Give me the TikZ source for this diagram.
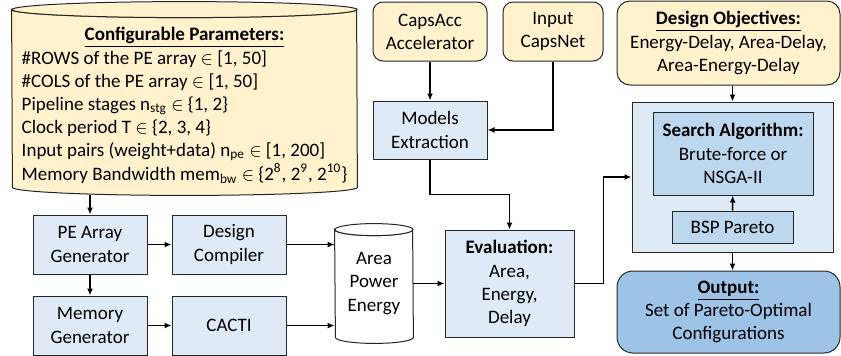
\documentclass[tikz,border=0pt]{standalone}
\usepackage{fontspec}
\setmainfont{Carlito}
\usetikzlibrary{positioning, arrows.meta, backgrounds}

\definecolor{paramyellow}{HTML}{FFF2CC}
\definecolor{blockblue}{HTML}{DEEBF7}
\definecolor{searchblue}{HTML}{BDD7EE}
\definecolor{outblue}{HTML}{9DC3E6}

\begin{document}
\begin{tikzpicture}[x=0.5pt, y=-0.5pt,
  every node/.style={font=\fontsize{9.5pt}{11.6pt}\selectfont, align=center, inner sep=0pt},
  block/.style={rectangle, draw=black!85, line width=0.5pt, fill=blockblue, minimum width=57pt, minimum height=29.5pt},
  inbox/.style={block, fill=paramyellow, rounded corners=5pt},
  conn/.style={-{Latex[length=3.5pt,width=3pt]}, line width=0.7pt},
  cyl/.style={draw=black!85, line width=0.5pt, fill=paramyellow}]
\useasboundingbox (0,0) rectangle (841,355);

% configuration space (cylinder)
\node (params) [minimum width=172.5pt, minimum height=96.5pt] at (184.5,98.5) {};
\node (paramlist) at (184.5,106) {\begin{tabular}{@{}l@{}}
  \multicolumn{1}{c}{\underline{\textbf{Configurable Parameters:}}}\\
  \#ROWS of the PE array $\in$ [1, 50]\\
  \#COLS of the PE array $\in$ [1, 50]\\
  Pipeline stages n\textsubscript{stg} $\in$ \{1, 2\}\\
  Clock period T $\in$ \{2, 3, 4\}\\
  Input pairs (weight+data) n\textsubscript{pe} $\in$ [1, 200]\\
  Memory Bandwidth mem\textsubscript{bw} $\in$ \{2\textsuperscript{8}, 2\textsuperscript{9}, 2\textsuperscript{10}\}
\end{tabular}};

% hardware generation
\node (pegen) [block] at (90,244.5) {PE Array\\Generator};
\node (memgen) [block, below=10.5pt of pegen] {Memory\\Generator};
\node (dc) [block, right=12pt of pegen] {Design\\Compiler};
\node (cacti) [block, right=12pt of memgen] {CACTI};
\node (store) [minimum width=39pt, minimum height=59.5pt] at (374,283.5) {Area\\Power\\Energy};

% inputs
\node (capsacc) [inbox] at (430,31.5) {CapsAcc\\Accelerator};
\node (capsnet) [inbox, minimum width=50pt, right=7.5pt of capsacc] {Input\\CapsNet};
\node (models) [block, minimum height=29pt, below=19.5pt of capsacc] {Models\\Extraction};
\node (eval) [block, minimum width=64.5pt, minimum height=53.5pt] at (509.5,283.5) {\textbf{Evaluation:}\\Area,\\Energy,\\Delay};

% exploration
\node (objectives) [inbox, rounded corners=6.5pt, minimum width=111.5pt, minimum height=42pt] at (728.5,43) {\underline{\textbf{Design Objectives:}}\\Energy-Delay, Area-Delay,\\Area-Energy-Delay};
\node (explore) [block, minimum width=100.5pt, minimum height=75pt] at (732.5,177) {};
\node (search) [block, fill=searchblue, minimum width=80pt, minimum height=41.5pt] at (733,153.5) {\textbf{Search Algorithm:}\\Brute-force or\\NSGA-II};
\node (bsp) [block, fill=searchblue, minimum width=60.5pt, minimum height=16pt] at (732.5,227) {BSP Pareto};
\node (output) [block, fill=outblue, rounded corners=8pt, minimum width=111.5pt, minimum height=41pt] at (728.5,312) {\underline{\textbf{Output:}}\\Set of Pareto-Optimal\\Configurations};

\begin{scope}[on background layer]
\draw[cyl] ([yshift=-4pt]params.north west) arc[start angle=180, end angle=360, x radius=86.25pt, y radius=4pt]
  -- ([yshift=4pt]params.south east) arc[start angle=0, end angle=-180, x radius=86.25pt, y radius=4pt] -- cycle;
\draw[cyl] ([yshift=-4pt]params.north) ellipse[x radius=86.25pt, y radius=4pt];
\draw[cyl, fill=white] ([yshift=-3pt]store.north west) arc[start angle=180, end angle=360, x radius=19.5pt, y radius=3pt]
  -- ([yshift=3pt]store.south east) arc[start angle=0, end angle=-180, x radius=19.5pt, y radius=3pt] -- cycle;
\draw[cyl, fill=white] ([yshift=-3pt]store.north) ellipse[x radius=19.5pt, y radius=3pt];
\end{scope}

% connectors
\draw[conn] (params.south -| pegen.north) -- (pegen.north);
\draw[conn] (pegen) -- (memgen);
\draw[conn] (pegen) -- (dc);
\draw[conn] (memgen) -- (cacti);
\draw[conn] (dc.east) -- (dc.east -| store.west);
\draw[conn] (cacti.east) -- (cacti.east -| store.west);
\draw[conn] (store.east) -- (store.east -| eval.west);
\draw[conn] (capsacc) -- (models);
\draw[conn] (capsnet.south) |- (models.east);
\draw[conn] (models.south) -- ++(0,-17.5pt) -| (eval.north);
\draw[conn] (eval.east) -- ++(14.5pt,0) |- (explore.west);
\draw[conn] (objectives.south -| explore.north) -- (explore.north);
\draw[conn] (bsp) -- (search);
\draw[conn] (explore.south) -- (explore.south |- output.north);
\end{tikzpicture}
\end{document}
